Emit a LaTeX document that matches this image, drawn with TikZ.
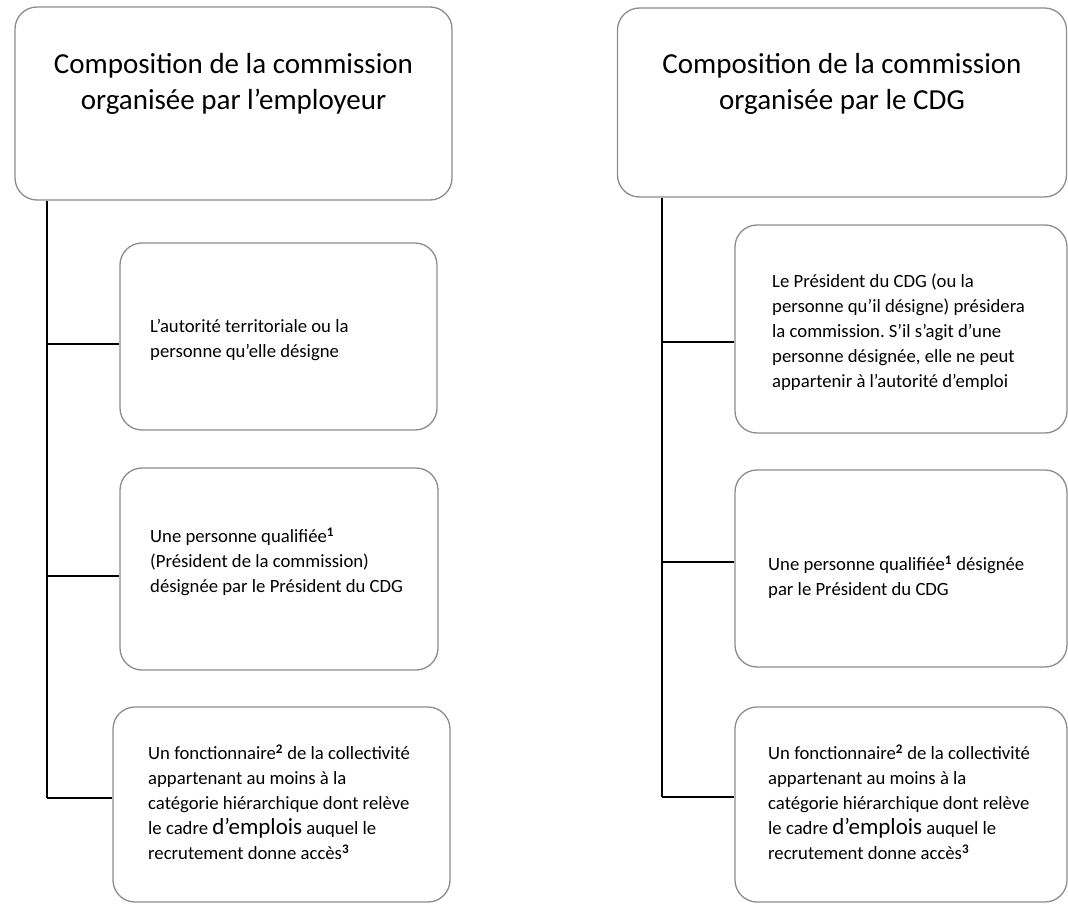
\documentclass[tikz,border=0pt]{standalone}
\usepackage{fontspec}
\setmainfont{Carlito}
\frenchspacing
\tikzset{
  box/.style={draw=black!45, line width=1.3pt, rounded corners=22pt, inner sep=0pt},
  conn/.style={draw=black, line width=1.4pt},
  headtxt/.style={align=center, inner sep=0pt, font=\fontsize{29}{36}\selectfont},
  bodytxt/.style={align=left, anchor=west, inner sep=0pt, font=\fontsize{18.7}{25}\selectfont},
}
\newcommand{\supx}[1]{\textsuperscript{\bfseries #1}}
\newcommand{\bigw}[1]{{\fontsize{23}{25}\selectfont #1}}
\begin{document}
\begin{tikzpicture}[x=1pt,y=-1pt]
\useasboundingbox (0,0) rectangle (1068,904);
% headers
\node[box, minimum width=437, minimum height=193] (hL) at (233.5,103.5) {};
\node[headtxt] (thL) at (233.5,84) {Composition de la commission\\organisée par l’employeur};
\node[box, minimum width=449, minimum height=189] (hR) at (842,102.5) {};
\node[headtxt] (thR) at (842,84) {Composition de la commission\\organisée par le CDG};
% left children
\node[box, minimum width=317, minimum height=187] (cL1) at (278.5,336.5) {};
\node[box, minimum width=318, minimum height=202] (cL2) at (279,569) {};
\node[box, minimum width=337, minimum height=195] (cL3) at (281.5,804.5) {};
\node[bodytxt] (tL1) at (150,340.5) {L’autorité territoriale ou la\\personne qu’elle désigne};
\node[bodytxt] (tL2) at (150,562) {Une personne qualifiée\supx{1}\\(Président de la commission)\\désignée par le Président du CDG};
\node[bodytxt] (tL3) at (148,802) {Un fonctionnaire\supx{2} de la collectivité\\appartenant au moins à la\\catégorie hiérarchique dont relève\\le cadre \bigw{d’emplois} auquel le\\recrutement donne accès\supx{3}};
% right children
\node[box, minimum width=332, minimum height=208] (cR1) at (901,329) {};
\node[box, minimum width=332, minimum height=197] (cR2) at (901,568.5) {};
\node[box, minimum width=332, minimum height=195] (cR3) at (901,804.5) {};
\node[bodytxt] (tR1) at (772,332) {Le Président du CDG (ou la\\personne qu’il désigne) présidera\\la commission. S’il s’agit d’une\\personne désignée, elle ne peut\\appartenir à l’autorité d’emploi};
\node[bodytxt] (tR2) at (768,577.5) {Une personne qualifiée\supx{1} désignée\\par le Président du CDG};
\node[bodytxt] (tR3) at (768,802) {Un fonctionnaire\supx{2} de la collectivité\\appartenant au moins à la\\catégorie hiérarchique dont relève\\le cadre \bigw{d’emplois} auquel le\\recrutement donne accès\supx{3}};
% connector junctions
\coordinate (aL1) at (47,344);
\coordinate (aL2) at (47,576);
\coordinate (aL3) at (47,798);
\coordinate (aR1) at (662,342);
\coordinate (aR2) at (662,562);
\coordinate (aR3) at (662,797);
% trunks
\draw[conn] (hL.south -| aL1) -- (aL3);
\draw[conn] (hR.south -| aR1) -- (aR3);
% branches
\draw[conn] (aL1) -- (aL1 -| cL1.west);
\draw[conn] (aL2) -- (aL2 -| cL2.west);
\draw[conn] (aL3) -- (aL3 -| cL3.west);
\draw[conn] (aR1) -- (aR1 -| cR1.west);
\draw[conn] (aR2) -- (aR2 -| cR2.west);
\draw[conn] (aR3) -- (aR3 -| cR3.west);
\end{tikzpicture}
\end{document}
